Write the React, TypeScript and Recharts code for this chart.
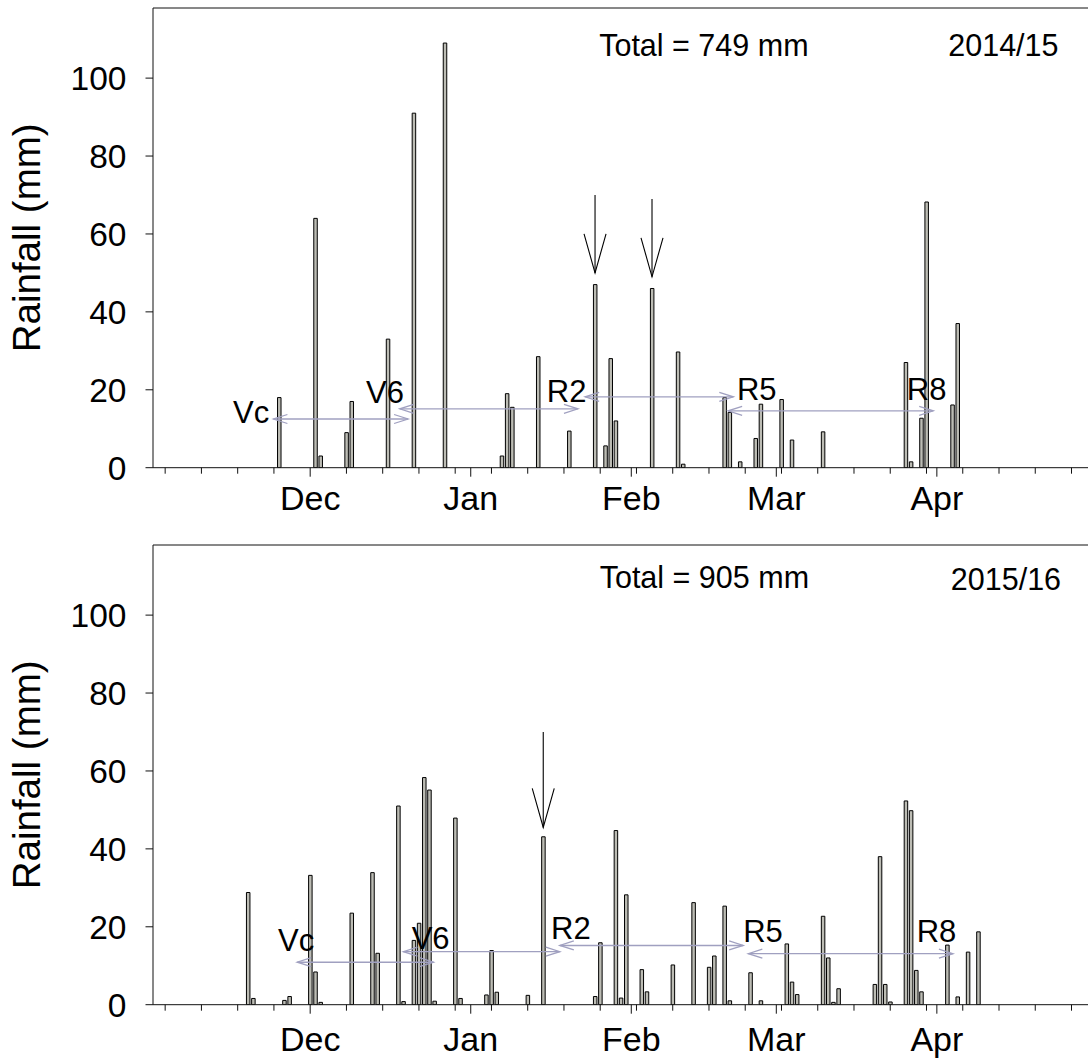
import React from "react";
import { BarChart, Bar, XAxis, YAxis, ReferenceLine, ReferenceDot } from "recharts";

const FONT = "'Liberation Sans', Arial, sans-serif";

// x axis is days counted from 1 Nov
const monthDays = [30, 61, 92, 120, 151];
const monthNames = ["Dec", "Jan", "Feb", "Mar", "Apr"];
const weekDays = [2, 9, 16, 23, 30, 37, 44, 51, 58, 65, 72, 79, 86, 93, 100, 107, 114, 121, 128, 135, 142, 149, 156, 163, 170, 177];
const yTicks = [0, 20, 40, 60, 80, 100];

// 2014/15 daily rainfall
const days1415 = [24, 31, 32, 37, 38, 45, 50, 56, 67, 68, 69, 74, 80, 85, 87, 88, 89, 96, 101, 102, 110, 111, 113, 116, 117, 121, 123, 129, 145, 146, 148, 149, 154, 155];
const rain1415 = [18, 64, 3, 9, 17, 33, 91, 109, 3, 19, 15.5, 28.5, 9.4, 47, 5.6, 28, 12, 46, 29.7, 0.9, 18, 14.2, 1.5, 7.5, 16.3, 17.5, 7.1, 9.2, 27, 1.5, 12.7, 68.2, 16.1, 37];

// 2015/16 daily rainfall
const days1516 = [18, 19, 25, 26, 30, 31, 32, 38, 42, 43, 47, 48, 50, 51, 52, 53, 54, 58, 59, 64, 65, 66, 72, 75, 85, 86, 89, 90, 91, 94, 95, 100, 104, 107, 108, 110, 111, 115, 117, 122, 123, 124, 129, 130, 131, 132, 139, 140, 141, 142, 145, 146, 147, 148, 153, 155, 157, 159];
const rain1516 = [28.8, 1.6, 1.1, 2.1, 33.2, 8.4, 0.6, 23.5, 33.9, 13.2, 51, 0.8, 16.5, 20.9, 58.3, 55.1, 0.9, 47.9, 1.6, 2.5, 13.9, 3.2, 2.4, 43.1, 2.1, 15.9, 44.7, 1.7, 28.2, 9, 3.3, 10.2, 26.2, 9.6, 12.5, 25.3, 1, 8.2, 1, 15.6, 5.8, 2.6, 22.7, 12, 0.6, 4.1, 5.2, 38, 5.2, 0.7, 52.3, 49.8, 8.8, 3.3, 15.3, 2, 13.5, 18.7];

// growth stages: label [day, mm] and arrow spans [from, to, mm]
const stageNames = ["Vc", "V6", "R2", "R5", "R8"];
const stageLabels1415 = [[15.1, 11.5], [40.8, 16.5], [75.7, 16.9], [112.4, 17.4], [145.2, 17.4]];
const stageSpans1415 = [[22.9, 48.9, 12.5], [47.3, 81.7, 15.1], [83.1, 111.7, 18.2], [110.7, 150.3, 14.6]];
const stageLabels1516 = [[23.8, 13.7], [49.6, 14.2], [76.5, 16.9], [113.6, 16.1], [147.1, 16.1]];
const stageSpans1516 = [[27.5, 53.8, 10.9], [48, 78.2, 13.6], [78.2, 113.6, 15.2], [114.6, 154.1, 13.1]];

// sampling arrows [day, top mm, tip mm]
const samples1415 = [[85, 70, 50], [96, 69, 49]];
const samples1516 = [[75, 70, 45.5]];

const X_MIN = -0.35;
const X_MAX = 182.5;
const Y_MAX = 118;

const allTicks = Array.from(new Set([...weekDays, ...monthDays])).sort((a, b) => a - b);

const DayTick = (props: any) => {
  const { x, y, payload, labelDy } = props;
  const idx = monthDays.indexOf(payload.value);
  const isMonth = idx >= 0;
  return (
    <g>
      <line x1={x} y1={y} x2={x} y2={y + (isMonth ? 9 : 6)} stroke="#111" strokeWidth={1} />
      {isMonth && (
        <text x={x} y={y + labelDy} textAnchor="middle" fontSize={34} fill="#000" fontFamily={FONT}>
          {monthNames[idx]}
        </text>
      )}
    </g>
  );
};

const SpanArrow = (props: any) => {
  const { x1, y1, x2, y2 } = props;
  const h = 14;
  const w = 4.5;
  return (
    <g stroke="#a0a0c0" strokeWidth={1.3} fill="none">
      <line x1={x1} y1={y1} x2={x2} y2={y2} />
      <polyline points={`${x1 + h},${y1 - w} ${x1},${y1} ${x1 + h},${y1 + w}`} />
      <polyline points={`${x2 - h},${y2 - w} ${x2},${y2} ${x2 - h},${y2 + w}`} />
    </g>
  );
};

const DownArrow = (props: any) => {
  const { x1, y1, x2, y2 } = props;
  return (
    <g stroke="#000" strokeWidth={1.1} fill="none">
      <line x1={x1} y1={y1} x2={x2} y2={y2} />
      <polyline points={`${x2 - 11},${y2 - 39} ${x2},${y2} ${x2 + 11},${y2 - 39}`} />
    </g>
  );
};

const textAt = (label: string, size = 31) => (p: any) => (
  <text x={p.cx} y={p.cy} fontSize={size} fill="#000" fontFamily={FONT}>
    {label}
  </text>
);

const YLabel = (props: any) => {
  const vb = props.viewBox;
  const bx = vb.x + 40;
  const cy = vb.y + vb.height / 2;
  return (
    <text
      x={bx}
      y={cy}
      transform={`rotate(-90 ${bx} ${cy})`}
      textAnchor="middle"
      fontSize={38.5}
      fill="#000"
      fontFamily={FONT}
    >
      Rainfall (mm)
    </text>
  );
};

interface PanelProps {
  days: number[];
  rain: number[];
  total: string;
  season: string;
  headerPos: number[][];
  labels: number[][];
  spans: number[][];
  samples: number[][];
  labelDy: number;
}

function Panel({ days, rain, total, season, headerPos, labels, spans, samples, labelDy }: PanelProps) {
  const data = days.map((d, i) => ({ day: d, mm: rain[i] }));

  return (
    <BarChart width={1100} height={538} data={data} margin={{ top: 8, right: 0, left: 0, bottom: 0 }}>
      <XAxis
        type="number"
        dataKey="day"
        domain={[X_MIN, X_MAX]}
        ticks={allTicks}
        interval={0}
        allowDataOverflow
        height={70.3}
        tickSize={0}
        tickMargin={0}
        tickLine={false}
        axisLine={{ stroke: "#111" }}
        tick={<DayTick labelDy={labelDy} />}
      />
      <YAxis
        type="number"
        domain={[0, Y_MAX]}
        ticks={yTicks}
        allowDataOverflow
        width={153}
        tickSize={7.5}
        tickMargin={19}
        axisLine={{ stroke: "#111" }}
        tickLine={{ stroke: "#111" }}
        tick={{ fontSize: 33.5, fill: "#000", fontFamily: FONT }}
        label={(p: any) => <YLabel {...p} />}
      />
      <ReferenceLine y={Y_MAX} stroke="#111" strokeWidth={1} />
      <Bar dataKey="mm" barSize={3.5} fill="#bcbcb4" stroke="#000" strokeWidth={1} isAnimationActive={false} />

      {spans.map((s, i) => (
        <ReferenceLine
          key={`span-${i}`}
          segment={[{ x: s[0], y: s[2] }, { x: s[1], y: s[2] }]}
          shape={(p: any) => <SpanArrow {...p} />}
        />
      ))}
      {labels.map((l, i) => (
        <ReferenceDot key={`lab-${i}`} x={l[0]} y={l[1]} r={0} shape={textAt(stageNames[i])} />
      ))}
      {samples.map((a, i) => (
        <ReferenceLine
          key={`samp-${i}`}
          segment={[{ x: a[0], y: a[1] }, { x: a[0], y: a[2] }]}
          shape={(p: any) => <DownArrow {...p} />}
        />
      ))}
      <ReferenceDot x={headerPos[0][0]} y={headerPos[0][1]} r={0} shape={textAt(total, 30.5)} />
      <ReferenceDot x={headerPos[1][0]} y={headerPos[1][1]} r={0} shape={textAt(season, 30.5)} />
    </BarChart>
  );
}

export default function App() {
  return (
    <div
      style={{
        position: "absolute",
        left: 0,
        top: 0,
        width: 1088,
        height: 1063,
        overflow: "hidden",
        background: "#fff",
        fontFamily: FONT,
      }}
    >
      <div style={{ position: "absolute", left: 0, top: 0 }}>
        <Panel
          days={days1415}
          rain={rain1415}
          total="Total = 749 mm"
          season="2014/15"
          headerPos={[[85.8, 105.8], [153.2, 105.8]]}
          labels={stageLabels1415}
          spans={stageSpans1415}
          samples={samples1415}
          labelDy={42.5}
        />
      </div>
      <div style={{ position: "absolute", left: 0, top: 537.3 }}>
        <Panel
          days={days1516}
          rain={rain1516}
          total="Total = 905 mm"
          season="2015/16"
          headerPos={[[85.9, 107], [153.7, 106.4]]}
          labels={stageLabels1516}
          spans={stageSpans1516}
          samples={samples1516}
          labelDy={46}
        />
      </div>
    </div>
  );
}
